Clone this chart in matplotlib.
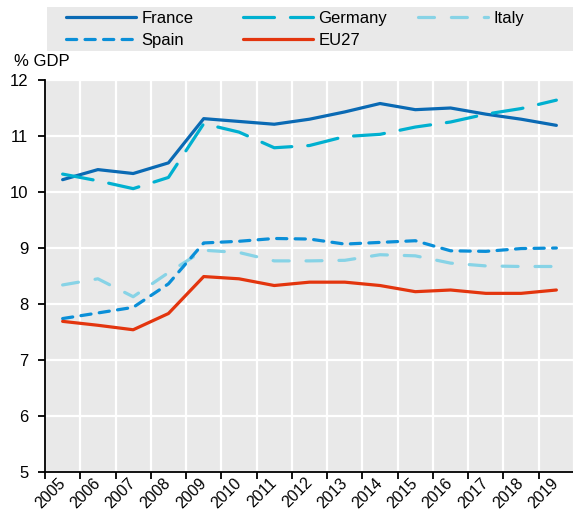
import matplotlib
matplotlib.use("Agg")
import matplotlib.pyplot as plt
from matplotlib.patches import Rectangle
import numpy as np

plt.rcParams['font.family'] = ['Liberation Sans', 'DejaVu Sans']
FS = 12

years = [str(y) for y in range(2005, 2020)]

france  = [10.22, 10.40, 10.33, 10.52, 11.31, 11.26, 11.21, 11.30, 11.43, 11.58, 11.47, 11.50, 11.39, 11.30, 11.19]
germany = [10.32, 10.20, 10.06, 10.26, 11.22, 11.07, 10.79, 10.83, 10.99, 11.03, 11.16, 11.25, 11.39, 11.49, 11.64]
italy   = [8.34, 8.45, 8.13, 8.56, 8.96, 8.92, 8.77, 8.77, 8.78, 8.88, 8.86, 8.73, 8.68, 8.67, 8.67]
spain   = [7.74, 7.84, 7.94, 8.36, 9.09, 9.12, 9.17, 9.16, 9.07, 9.10, 9.13, 8.95, 8.94, 8.99, 9.00]
eu27    = [7.69, 7.62, 7.54, 7.83, 8.49, 8.45, 8.33, 8.39, 8.39, 8.33, 8.22, 8.25, 8.19, 8.19, 8.25]

yticks = [5, 6, 7, 8, 9, 10, 11, 12]

series = [
    ("France",  france,  "#0a6ab4", "-"),
    ("Germany", germany, "#00b0d0", (0, (9.7, 5.0))),
    ("Italy",   italy,   "#87d3e6", (0, (5.0, 5.3))),
    ("Spain",   spain,   "#0a8fd8", (0, (3.2, 2.6))),
    ("EU27",    eu27,    "#e3350e", "-"),
]

W, H = 573, 513
fig = plt.figure(figsize=(W / 100, H / 100), dpi=100)
ax = fig.add_axes([45 / W, (H - 472) / H, 529 / W, 392 / H])

bg = "#e9e9e9"
ax.set_facecolor(bg)

x = np.arange(len(years))
lw = 2.3
handles = {}
for name, vals, col, ls in series:
    ln, = ax.plot(x, vals, color=col, lw=lw, ls=ls,
                  dash_capstyle='round', solid_capstyle='round',
                  solid_joinstyle='round', label=name, zorder=3)
    handles[name] = ln

ax.set_xlim(-0.5, len(years) - 0.5)
ax.set_ylim(5, 12)
ax.set_yticks(yticks)
ax.set_xticks(x)
ax.set_xticklabels(years, rotation=45, ha='right', va='center',
                   rotation_mode='anchor', fontsize=11.5)
ax.set_xticks(np.arange(-0.5, len(years) + 0.5, 1), minor=True)
ax.tick_params(axis='x', which='major', length=0, pad=6)
ax.tick_params(axis='x', which='minor', length=5, width=1.3, color='black', direction='out')
ax.tick_params(axis='y', length=5, width=1.3, labelsize=FS, pad=7, color='black')

ax.grid(True, which='minor', axis='x', color='white', lw=1.6, zorder=1)
ax.grid(True, which='major', axis='y', color='white', lw=1.6, zorder=1)
ax.grid(False, which='major', axis='x')
ax.set_axisbelow(True)

for s in ['top', 'right']:
    ax.spines[s].set_visible(False)
for s in ['left', 'bottom']:
    ax.spines[s].set_color('black')
    ax.spines[s].set_linewidth(1.3)

fig.text(14 / W, 1 - 61.5 / H, "% GDP", fontsize=FS, ha='left', va='center')

# legend band
fig.patches.append(Rectangle((47 / W, 1 - 51 / H), (W - 47) / W, 44 / H,
                             transform=fig.transFigure, facecolor=bg,
                             edgecolor='none', zorder=0))

columns = [(["France", "Spain"], 66), (["Germany", "EU27"], 243), (["Italy"], 418)]
for names, xpx in columns:
    fig.legend([handles[n] for n in names], names,
               loc='upper left', bbox_to_anchor=(xpx / W, 1 - 11 / H),
               frameon=False, fontsize=FS, handlelength=70 / (FS * 100 / 72),
               handletextpad=0.33, borderpad=0, borderaxespad=0,
               labelspacing=0.42)

fig.savefig("out.png", dpi=100)
